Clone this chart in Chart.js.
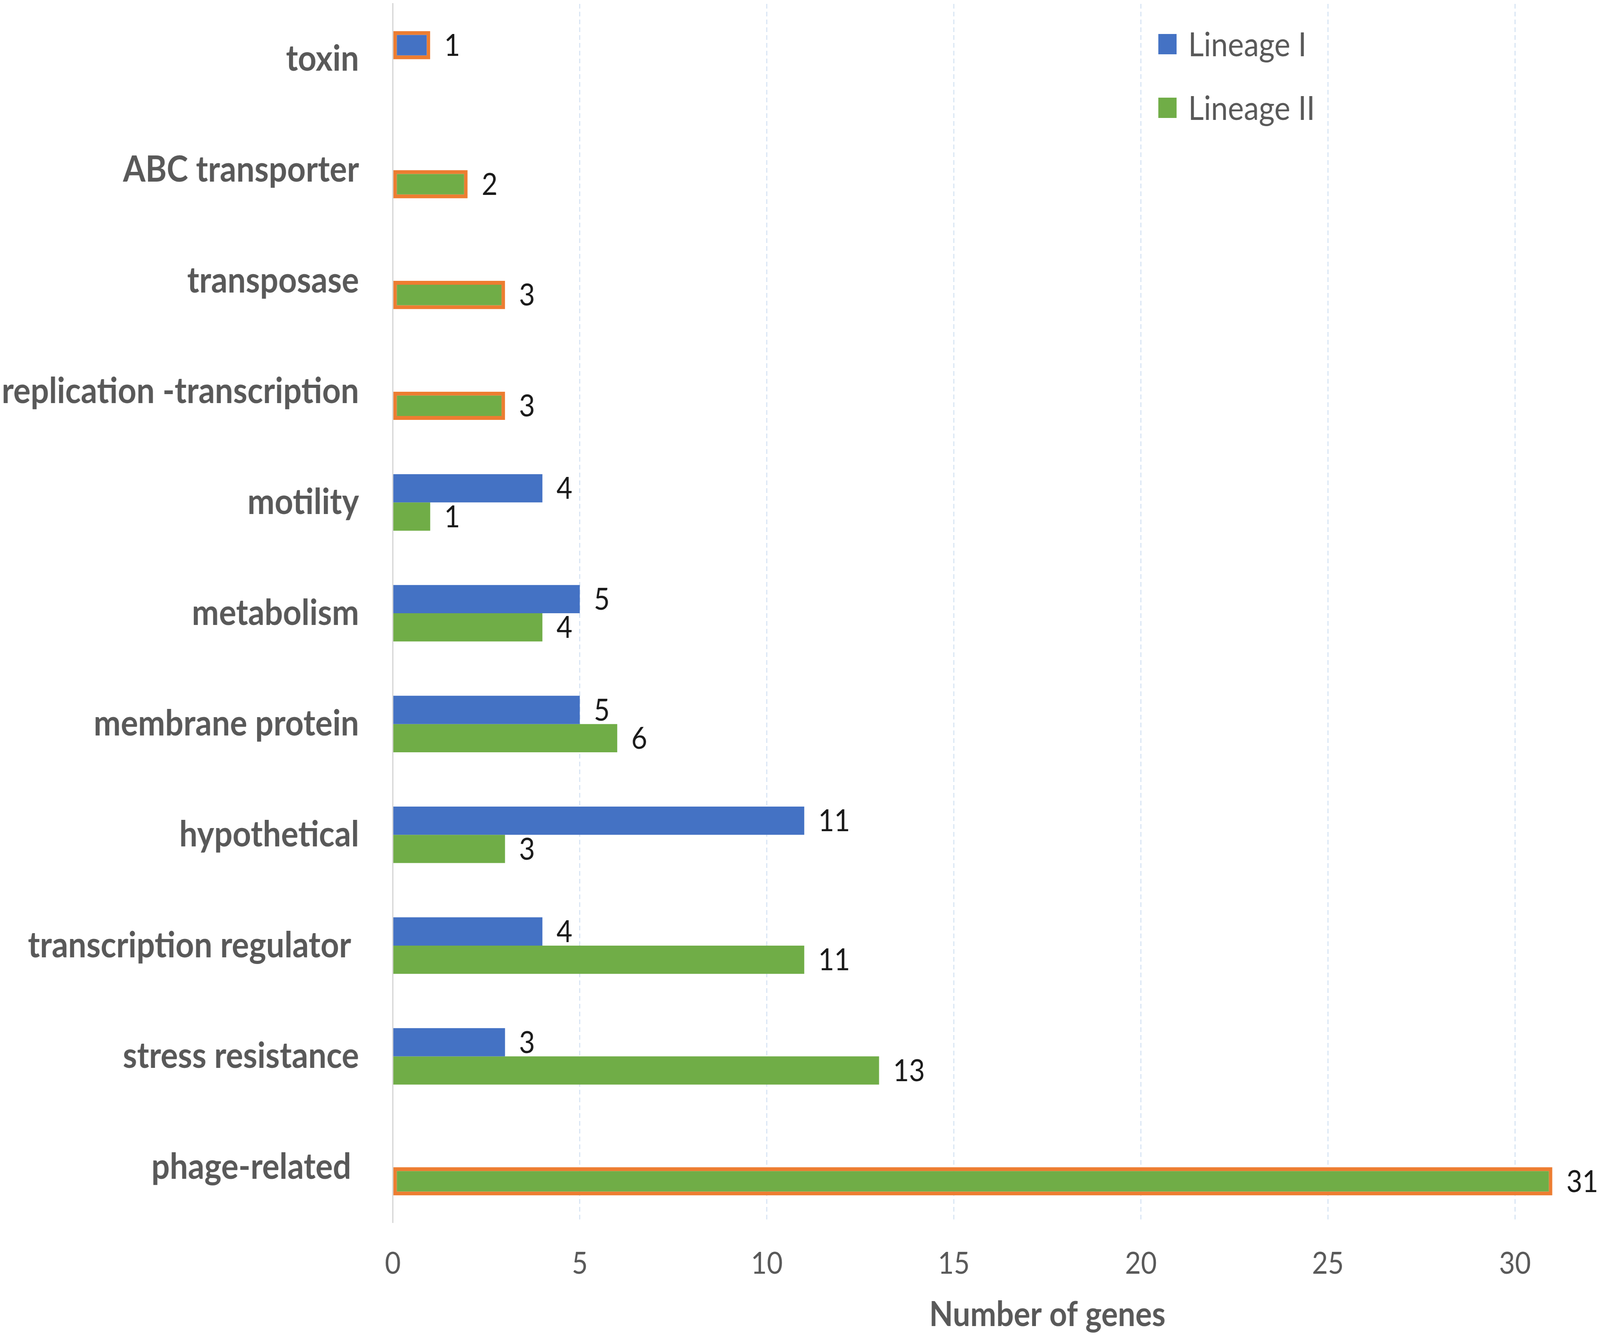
<!DOCTYPE html>
<html lang="en">
<head>
    <meta charset="UTF-8">
    <title>Number of genes per lineage</title>
    <script src="https://cdn.jsdelivr.net/npm/chart.js"></script>
    <style>
        html, body {
            margin: 0;
            padding: 0;
            background: #fff;
            overflow: hidden;
        }
        /* the original figure is cropped on the right, so the plot runs past the window edge */
        .frame {
            width: 100vw;
            height: 100vh;
            overflow: hidden;
            position: relative;
        }
        canvas {
            position: absolute;
            left: 0;
            top: 0;
        }
    </style>
</head>
<body>
    <div class="frame">
        <canvas id="genesChart"></canvas>
    </div>

    <script>
        const categories = [
            'toxin',
            'ABC transporter',
            'transposase',
            'replication -transcription',
            'motility',
            'metabolism',
            'membrane protein',
            'hypothetical',
            'transcription regulator ',
            'stress resistance',
            'phage-related '
        ];
        const lineageI  = [1, null, null, null, 4, 5, 5, 11, 4, 3, null];
        const lineageII = [null, 2, 3, 3, 1, 4, 6, 3, 11, 13, 31];
        // bars that only one lineage has get an orange outline
        const outlinedI  = [true, false, false, false, false, false, false, false, false, false, false];
        const outlinedII = [false, true, true, true, false, false, false, false, false, false, true];
        const xTicks = [0, 5, 10, 15, 20, 25, 30, 35];
        const seriesNames = ['Lineage I', 'Lineage II'];

        const BLUE = '#4472C4';
        const GREEN = '#70AD47';
        const ORANGE = '#ED7D31';
        const GREY = '#595959';

        // chart is laid out on a 4550x3423 sheet (plus the cropped part on the right)
        // and the canvas is stretched to whatever window we get
        const SHEET_W = 4550, SHEET_H = 3423, FULL_W = 4840;
        const sx = window.innerWidth / SHEET_W;
        const sy = window.innerHeight / SHEET_H;
        const canvas = document.getElementById('genesChart');
        canvas.width = FULL_W;
        canvas.height = SHEET_H;
        canvas.style.width = (FULL_W * sx) + 'px';
        canvas.style.height = (SHEET_H * sy) + 'px';

        Chart.defaults.font.family = 'Lato, "Open Sans", sans-serif';

        // value labels at the end of each bar
        const valueLabels = {
            id: 'valueLabels',
            afterDatasetsDraw(chart) {
                const ctx = chart.ctx;
                ctx.save();
                ctx.font = '78px Lato';
                ctx.fillStyle = '#1a1a1a';
                ctx.textBaseline = 'middle';
                ctx.textAlign = 'left';
                chart.data.datasets.forEach((ds, i) => {
                    const meta = chart.getDatasetMeta(i);
                    meta.data.forEach((bar, j) => {
                        const v = ds.data[j];
                        if (v === null || v === undefined) return;
                        ctx.fillText(String(v), bar.x + 40, bar.y + 2);
                    });
                });
                ctx.restore();
            }
        };

        // legend sits inside the plot, top right, stacked
        const insideLegend = {
            id: 'insideLegend',
            afterDraw(chart) {
                const ctx = chart.ctx;
                const area = chart.chartArea;
                const x0 = area.left + 2177;
                const y0 = area.top + 103;
                const gap = 163;
                const box = 52;
                ctx.save();
                ctx.font = '86px Lato';
                ctx.textBaseline = 'middle';
                ctx.textAlign = 'left';
                chart.data.datasets.forEach((ds, i) => {
                    const cy = y0 + i * gap;
                    ctx.fillStyle = ds.backgroundColor;
                    ctx.fillRect(x0, cy - box / 2, box, box);
                    ctx.fillStyle = GREY;
                    ctx.fillText(seriesNames[i], x0 + 85, cy + 3);
                });
                ctx.restore();
            }
        };

        new Chart(canvas, {
            type: 'bar',
            data: {
                labels: categories,
                datasets: [
                    {
                        label: seriesNames[0],
                        data: lineageI,
                        backgroundColor: BLUE,
                        borderColor: ORANGE,
                        borderWidth: outlinedI.map(o => o ? 10 : 0),
                        borderSkipped: false,
                        categoryPercentage: 0.51,
                        barPercentage: 1.0
                    },
                    {
                        label: seriesNames[1],
                        data: lineageII,
                        backgroundColor: GREEN,
                        borderColor: ORANGE,
                        borderWidth: outlinedII.map(o => o ? 10 : 0),
                        borderSkipped: false,
                        categoryPercentage: 0.51,
                        barPercentage: 1.0
                    }
                ]
            },
            options: {
                indexAxis: 'y',
                responsive: false,
                devicePixelRatio: 1,
                animation: false,
                layout: {
                    padding: { top: 10, right: 0, bottom: 0, left: 0 }
                },
                plugins: {
                    legend: { display: false },
                    tooltip: { enabled: false }
                },
                scales: {
                    x: {
                        min: 0,
                        max: 35,
                        afterBuildTicks(scale) {
                            scale.ticks = xTicks.map(v => ({ value: v }));
                        },
                        afterFit(scale) {
                            scale.height = 293;
                            scale.paddingLeft = 0;
                            scale.paddingRight = 0;
                        },
                        ticks: {
                            color: GREY,
                            font: { size: 78 },
                            padding: 59,
                            callback: v => (v === 35 ? '' : String(v))
                        },
                        grid: {
                            color: '#D5E3F3',
                            lineWidth: 3,
                            drawTicks: false
                        },
                        border: {
                            display: false,
                            dash: [12, 8]
                        },
                        title: {
                            display: true,
                            text: 'Number of genes',
                            color: GREY,
                            font: { size: 88, weight: 'bold' },
                            padding: { top: 30, bottom: 4 }
                        }
                    },
                    y: {
                        afterFit(scale) {
                            scale.width = 1117;
                            scale.paddingTop = 0;
                            scale.paddingBottom = 0;
                        },
                        ticks: {
                            color: GREY,
                            font: { size: 92, weight: 'bold' },
                            padding: 96
                        },
                        grid: {
                            display: false,
                            drawTicks: false
                        },
                        border: {
                            display: true,
                            color: '#D9D9D9',
                            width: 4
                        }
                    }
                }
            },
            plugins: [valueLabels, insideLegend]
        });
    </script>
</body>
</html>
